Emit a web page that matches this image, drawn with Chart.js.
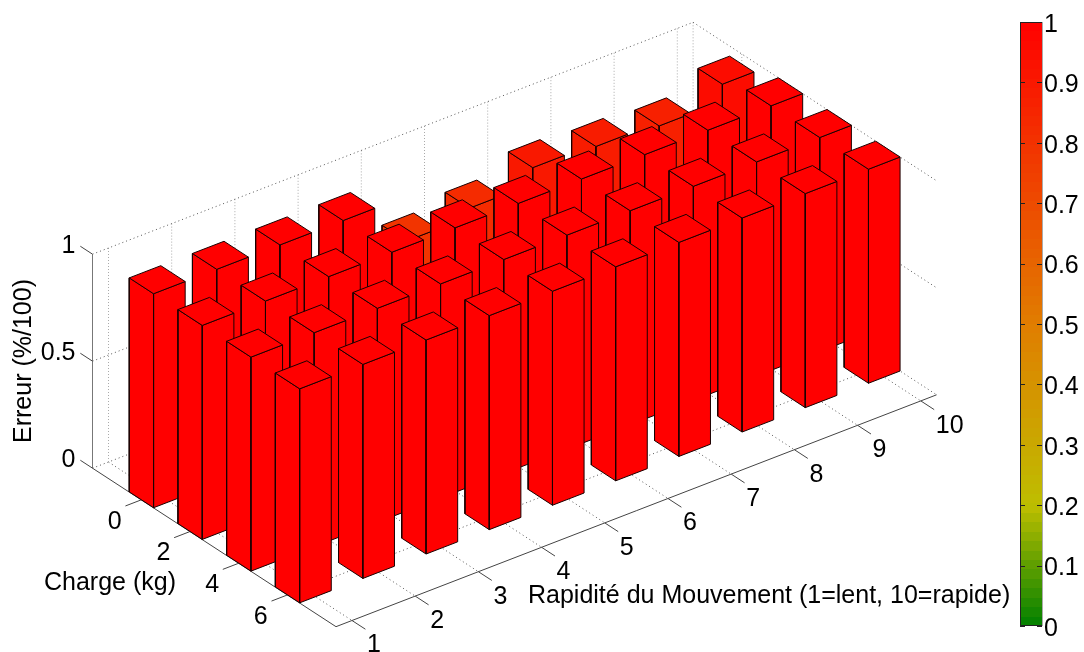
<!DOCTYPE html>
<html>
<head>
<meta charset="utf-8">
<script src="https://cdn.jsdelivr.net/npm/chart.js@4/dist/chart.umd.min.js"></script>
<style>
    html, body { margin: 0; padding: 0; background: #fff; }
    canvas { display: block; }
</style>
</head>
<body>
<canvas id="errorChart" width="1084" height="652"></canvas>
<script>
const rapidite = [1, 2, 3, 4, 5, 6, 7, 8, 9, 10];
const charges = [0, 2, 4, 6];
const erreurCharge0 = [1, 1, 1, 1, 0.79, 0.83, 0.905, 0.89, 0.872, 0.953];
const erreurCharge2 = [1, 1, 1, 1, 1, 1, 1, 1, 1, 1];
const erreurCharge4 = [1, 1, 1, 1, 1, 1, 1, 1, 1, 1];
const erreurCharge6 = [1, 1, 1, 1, 1, 1, 1, 1, 1, 1];
const erreurs = [erreurCharge0, erreurCharge2, erreurCharge4, erreurCharge6];
const erreurTicks = [0, 0.5, 1];
const colorbarLabels = [0, 0.1, 0.2, 0.3, 0.4, 0.5, 0.6, 0.7, 0.8, 0.9, 1];

const rapidLimits = [0.747, 10.25];
const chargeLimits = [-2, 8];

const FONT = '25px "Liberation Sans", Arial, sans-serif';

// colormap of the figure: green -> yellow-ish -> orange -> red
const colorStops = [
    [0, 0, 128, 0],
    [0.2, 190, 190, 0],
    [0.5, 225, 125, 0],
    [1, 255, 0, 0]
];

function colorFor(v) {
    for (let i = 1; i < colorStops.length; i++) {
        const a = colorStops[i - 1], b = colorStops[i];
        if (v <= b[0]) {
            const t = (v - a[0]) / (b[0] - a[0]);
            return `rgb(${Math.round(a[1] + t * (b[1] - a[1]))},${Math.round(a[2] + t * (b[2] - a[2]))},${Math.round(a[3] + t * (b[3] - a[3]))})`;
        }
    }
    return "rgb(255,0,0)";
}

// orthographic view of the 3D axes onto the two hidden screen scales
function project(s, c, z) {
    return {
        x: 352 + 63.2 * (s - 1) + 24.35 * (c - 8),
        y: 620.5 - 24.4 * (s - 1) + 15.85 * (c - 8) - 214 * z
    };
}

function lineSet(points, color, dash) {
    return {
        data: points.map(p => project(p[0], p[1], p[2])),
        showLine: true,
        borderColor: color,
        borderWidth: 1,
        borderDash: dash || [],
        pointRadius: 0,
        fill: false,
        clip: false
    };
}

function faceSet(points, color) {
    const pts = points.concat([points[0]]);
    return {
        data: pts.map(p => project(p[0], p[1], p[2])),
        showLine: true,
        borderColor: "#1a0000",
        borderWidth: 1,
        backgroundColor: color,
        pointRadius: 0,
        fill: "shape",
        clip: false
    };
}

function buildGrid() {
    const sets = [];
    const dots = [1, 3];
    const grid = "#555";
    const wall = "#aaa";
    const [s0, s1] = rapidLimits;
    const [c0, c1] = chargeLimits;

    // floor
    rapidite.forEach(s => sets.push(lineSet([[s, c0, 0], [s, c1, 0]], grid, dots)));
    charges.forEach(c => sets.push(lineSet([[s0, c, 0], [s1, c, 0]], grid, dots)));
    sets.push(lineSet([[s0, c0, 0], [s1, c0, 0]], grid, dots));
    sets.push(lineSet([[s1, c0, 0], [s1, c1, 0]], grid, dots));

    // back walls
    rapidite.forEach(s => sets.push(lineSet([[s, c0, 0], [s, c0, 1]], wall, [1, 2])));
    charges.forEach(c => sets.push(lineSet([[s1, c, 0], [s1, c, 1]], wall, [1, 2])));
    sets.push(lineSet([[s1, c0, 0], [s1, c0, 1]], wall, [1, 2]));
    erreurTicks.forEach(z => {
        if (z === 0) return;
        sets.push(lineSet([[s0, c0, z], [s1, c0, z]], grid, dots));
        sets.push(lineSet([[s1, c0, z], [s1, c1, z]], grid, dots));
    });

    // axes and their tick marks
    const axis = "#444";
    sets.push(lineSet([[s0, c0, 0], [s0, c0, 1]], "#777"));
    sets.push(lineSet([[s0, c0, 0], [s0, c1, 0]], axis));
    sets.push(lineSet([[s0, c1, 0], [s1, c1, 0]], axis));
    erreurTicks.forEach(z => sets.push(lineSet([[s0, c0, z], [s0, c0 - 0.5, z]], axis)));
    rapidite.forEach(s => sets.push(lineSet([[s, c1, 0], [s, c1 + 0.55, 0]], axis)));
    charges.forEach(c => sets.push(lineSet([[s0, c, 0], [s0 - 0.25, c, 0]], axis)));
    return sets;
}

function buildBars() {
    const sets = [];
    const hs = 0.25, hc = 0.5;
    // painter's order: back rows first, far bars first
    charges.forEach((c, ci) => {
        for (let si = rapidite.length - 1; si >= 0; si--) {
            const s = rapidite[si];
            const v = erreurs[ci][si];
            const col = colorFor(v);
            sets.push(faceSet([[s - hs, c - hc, 0], [s - hs, c + hc, 0], [s - hs, c + hc, v], [s - hs, c - hc, v]], col));
            sets.push(faceSet([[s - hs, c + hc, 0], [s + hs, c + hc, 0], [s + hs, c + hc, v], [s - hs, c + hc, v]], col));
            sets.push(faceSet([[s - hs, c - hc, v], [s - hs, c + hc, v], [s + hs, c + hc, v], [s + hs, c - hc, v]], col));
        }
    });
    return sets;
}

const figurePlugin = {
    id: "figure",
    beforeDatasetsDraw(chart) {
        const ctx = chart.ctx;
        const cb = chart.scales.cb;
        const left = 1020, right = chart.chartArea.right;
        const steps = 64;

        for (let i = 0; i < steps; i++) {
            const top = Math.round(cb.getPixelForValue((i + 1) / steps));
            const bottom = Math.round(cb.getPixelForValue(i / steps));
            ctx.fillStyle = colorFor((i + 0.5) / steps);
            ctx.fillRect(left, top, right - left, bottom - top);
        }

        ctx.strokeStyle = "#222";
        ctx.lineWidth = 1;
        ctx.beginPath();
        ctx.moveTo(right, cb.top + 0.5);
        ctx.lineTo(left + 0.5, cb.top + 0.5);
        ctx.lineTo(left + 0.5, cb.bottom - 0.5);
        ctx.lineTo(right, cb.bottom - 0.5);
        colorbarLabels.forEach(v => {
            const y = Math.round(cb.getPixelForValue(v)) + 0.5;
            ctx.moveTo(left, y);
            ctx.lineTo(left + 5, y);
            ctx.moveTo(right - 5, y);
            ctx.lineTo(right, y);
        });
        ctx.stroke();
        ctx.strokeStyle = "#aaa";
        ctx.beginPath();
        ctx.moveTo(right + 0.5, cb.top);
        ctx.lineTo(right + 0.5, cb.bottom);
        ctx.stroke();
    },
    afterDatasetsDraw(chart) {
        const ctx = chart.ctx;
        const sx = chart.scales.x, sy = chart.scales.y;
        const [s0] = rapidLimits;
        const [c0, c1] = chargeLimits;
        ctx.save();
        ctx.font = FONT;
        ctx.fillStyle = "#000";
        ctx.textBaseline = "middle";

        function label(text, p, dx, dy, align) {
            ctx.textAlign = align;
            ctx.fillText(text, sx.getPixelForValue(p.x) + dx, sy.getPixelForValue(p.y) + dy);
        }

        rapidite.forEach(s => label(String(s), project(s, c1, 0), 15, 25, "left"));
        charges.forEach(c => label(String(c), project(s0, c, 0), -26.5, 22, "center"));
        erreurTicks.forEach(z => label(String(z), project(s0, c0, z), -17, -8, "right"));

        ctx.textAlign = "left";
        ctx.fillText("Charge (kg)", 44, 583);
        ctx.fillText("Rapidité du Mouvement (1=lent, 10=rapide)", 528, 596);

        ctx.translate(24, 361);
        ctx.rotate(-Math.PI / 2);
        ctx.textAlign = "center";
        ctx.fillText("Erreur (%/100)", 0, 0);
        ctx.restore();
    }
};

// chart.js paints index 0 last, so the list is reversed
const drawOrder = buildGrid().concat(buildBars()).reverse();

new Chart(document.getElementById("errorChart"), {
    type: "scatter",
    data: { datasets: drawOrder },
    options: {
        responsive: false,
        animation: false,
        layout: { padding: { top: 22, bottom: 26, left: 0, right: 0 } },
        plugins: { legend: { display: false }, tooltip: { enabled: false } },
        events: [],
        scales: {
            x: { type: "linear", display: false, min: 0, max: 1042 },
            y: { type: "linear", display: false, min: 22, max: 626, reverse: true },
            cb: {
                type: "linear",
                axis: "y",
                position: "right",
                min: 0,
                max: 1,
                grid: { display: false, drawTicks: false },
                border: { display: false },
                afterFit: scale => { scale.width = 42; },
                ticks: {
                    stepSize: 0.1,
                    padding: 2,
                    labelOffset: 3,
                    color: "#000",
                    font: { family: '"Liberation Sans", Arial, sans-serif', size: 25 },
                    callback: v => String(+v.toFixed(1))
                }
            }
        }
    },
    plugins: [figurePlugin]
});
</script>
</body>
</html>
